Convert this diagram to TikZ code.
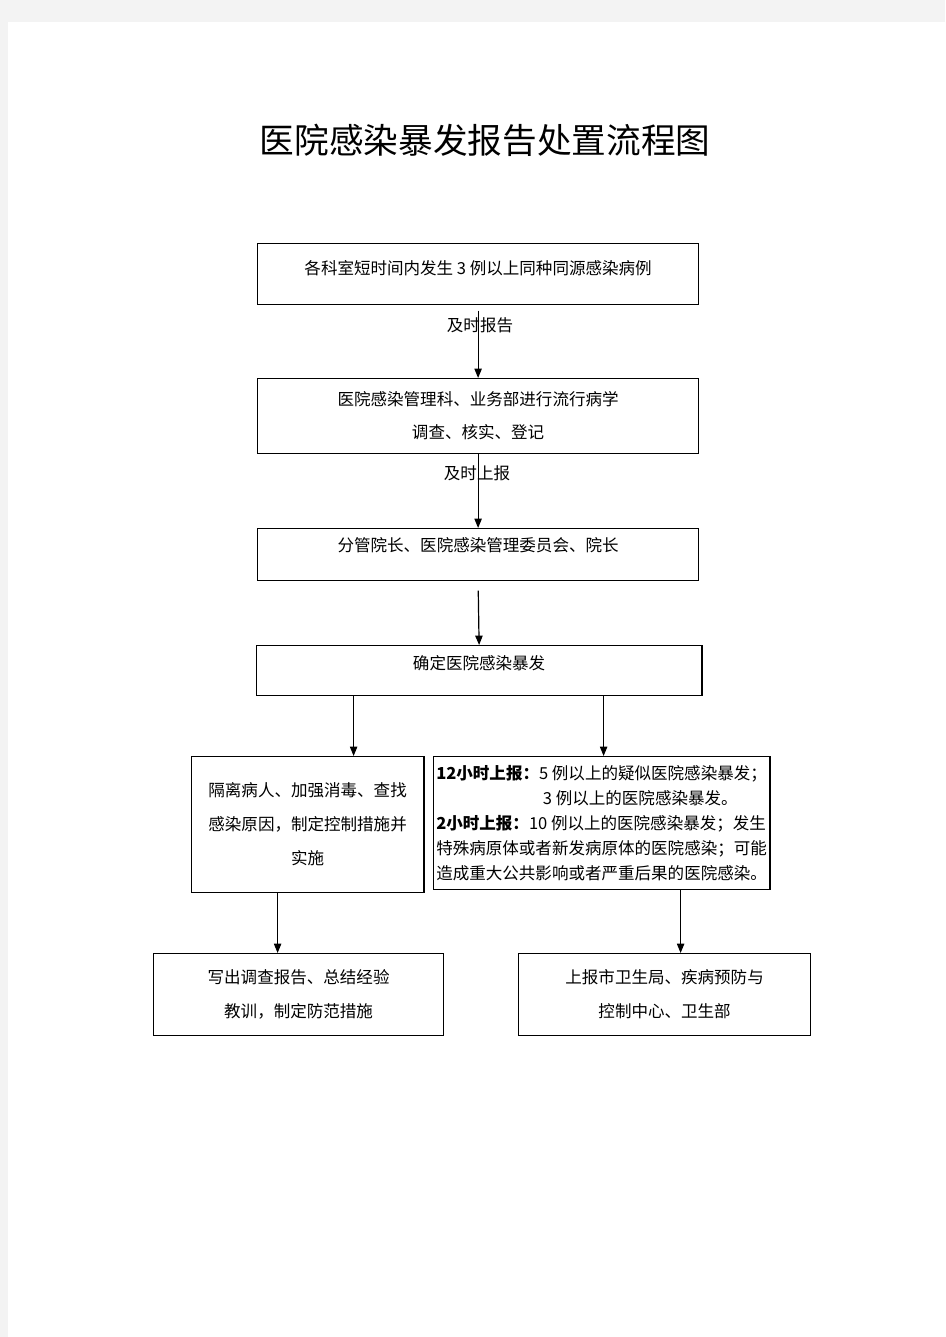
\documentclass[tikz,border=0pt]{standalone}
\usepackage{fontspec}
\setmainfont{Noto Sans CJK SC}
\usetikzlibrary{arrows.meta,calc}
\definecolor{pagegray}{HTML}{F3F3F3}
\begin{document}
\begin{tikzpicture}[x=0.75pt,y=-0.75pt,
  box/.style={draw=black,line width=0.9pt,inner sep=0pt,align=center,anchor=north west,
    font=\fontsize{12.4pt}{15pt}\selectfont},
  arr/.style={line width=0.9pt,-{Triangle[length=7pt,width=5.5pt]}},
  lbl/.style={inner sep=0pt,font=\fontsize{12.4pt}{15pt}\selectfont},
  rthick/.style={line width=1.6pt}]
\useasboundingbox (0,0) rectangle (945,1337);
\fill[pagegray] (0,0) rectangle (945,1337);
\fill[white] (8,22) rectangle (945,1337);

\node[inner sep=0pt,font=\fontsize{26pt}{30pt}\selectfont] (title) at (485,140) {医院感染暴发报告处置流程图};

\node[box,minimum width=330.75pt,minimum height=45.75pt,text height=9pt,text depth=8pt] (b1) at (257,243) {各科室短时间内发生 3 例以上同种同源感染病例};
\node[box,minimum width=330.75pt,minimum height=56.25pt,font=\fontsize{12.4pt}{24.75pt}\selectfont] (b2) at (257,378) {医院感染管理科、业务部进行流行病学\\调查、核实、登记};
\node[box,minimum width=330.75pt,minimum height=39pt,text height=9pt,text depth=13.5pt] (b3) at (257,528) {分管院长、医院感染管理委员会、院长};
\node[box,minimum width=333.75pt,minimum height=37.5pt,text height=9pt,text depth=10.5pt] (b4) at (256,645) {确定医院感染暴发};
\node[box,minimum width=174pt,minimum height=102pt,font=\fontsize{12.4pt}{25.5pt}\selectfont] (b5) at (191,756) {隔离病人、加强消毒、查找\\感染原因，制定控制措施并\\实施};
\node[box,minimum width=252pt,minimum height=99.75pt,align=left,font=\fontsize{12.4pt}{18.75pt}\selectfont] (b6) at (433,756) {{\bfseries 12小时上报：}5 例以上的疑似医院感染暴发；\\\hspace*{80pt}3 例以上的医院感染暴发。\\{\bfseries 2小时上报：}10 例以上的医院感染暴发；发生\\特殊病原体或者新发病原体的医院感染；可能\\造成重大公共影响或者严重后果的医院感染。};
\node[box,minimum width=217.5pt,minimum height=61.5pt,font=\fontsize{12.4pt}{25.5pt}\selectfont] (b7) at (153,953) {写出调查报告、总结经验\\教训，制定防范措施};
\node[box,minimum width=219pt,minimum height=61.5pt,font=\fontsize{12.4pt}{25.5pt}\selectfont] (b8) at (518,953) {上报市卫生局、疾病预防与\\控制中心、卫生部};

\draw[rthick] (b4.north east) -- (b4.south east);
\draw[rthick] (b5.north east) -- (b5.south east);
\draw[rthick] (b6.north east) -- (b6.south east);

\draw[arr,shorten <=4pt] (b1.south) -- (b2.north);
\node[lbl] (l1) at (480,325) {及时报告};
\draw[arr] (b2.south) -- (b3.north);
\node[lbl] (l2) at (477,473) {及时上报};
\draw[arr,shorten <=7pt] (b3.south) -- (b4.north);

\coordinate (a1) at ($(b4.south)+(-125.5,0)$);
\coordinate (a2) at ($(b4.south)+(124.5,0)$);
\draw[arr] (a1) -- (a1 |- b5.north);
\draw[arr] (a2) -- (a2 |- b6.north);

\coordinate (a3) at ($(b5.south)+(-30,0)$);
\coordinate (a4) at ($(b6.south)+(79,0)$);
\draw[arr] (a3) -- (a3 |- b7.north);
\draw[arr] (a4) -- (a4 |- b8.north);
\end{tikzpicture}
\end{document}
